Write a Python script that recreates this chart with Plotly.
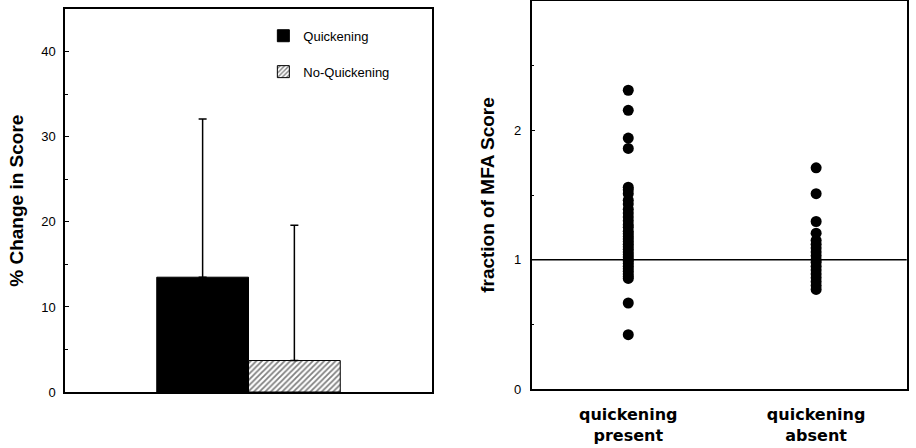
import plotly.graph_objects as go

# ---- data: left panel (bar chart) ----
bar_groups = ["Quickening", "No-Quickening"]
bar_means = [13.5, 3.7]
bar_sd_upper = [18.6, 15.9]

# ---- data: right panel (dot chart) ----
cat_labels = ["quickening<br>present", "quickening<br>absent"]
present_vals = [2.31, 2.155, 1.94, 1.86, 1.56, 1.54, 1.51, 1.46, 1.43, 1.39, 1.36,
                1.33, 1.30, 1.27, 1.25, 1.22, 1.20, 1.18, 1.16, 1.14, 1.12, 1.10,
                1.08, 1.06, 1.04, 1.02, 1.00, 0.99, 0.97, 0.95, 0.93, 0.91, 0.89,
                0.87, 0.855, 0.665, 0.42]
absent_vals = [1.71, 1.51, 1.295, 1.205, 1.15, 1.12, 1.09, 1.06, 1.03, 1.00, 0.98,
               0.95, 0.92, 0.89, 0.86, 0.83, 0.80, 0.77]
reference_level = 1.0

FONT = "Liberation Sans, Arial, sans-serif"
W, H = 916, 448

fig = go.Figure()

fig.add_trace(go.Bar(
    x=[bar_groups[0]], y=[bar_means[0]], name=bar_groups[0], width=1,
    marker=dict(color="black", line=dict(color="black", width=1)),
    error_y=dict(type="data", symmetric=False, array=[bar_sd_upper[0]], arrayminus=[0],
                 color="black", thickness=1.5, width=4),
    xaxis="x", yaxis="y", legendgroup="a",
))
fig.add_trace(go.Bar(
    x=[bar_groups[1]], y=[bar_means[1]], name=bar_groups[1], width=1,
    marker=dict(color="white", line=dict(color="black", width=1),
                pattern=dict(shape="/", fgcolor="black", bgcolor="white", size=4, solidity=0.45)),
    error_y=dict(type="data", symmetric=False, array=[bar_sd_upper[1]], arrayminus=[0],
                 color="black", thickness=1.5, width=4),
    xaxis="x", yaxis="y", legendgroup="b",
))

fig.add_trace(go.Scatter(
    x=[cat_labels[0]] * len(present_vals) + [cat_labels[1]] * len(absent_vals),
    y=present_vals + absent_vals,
    mode="markers", marker=dict(color="black", size=11),
    showlegend=False, xaxis="x2", yaxis="y2",
))

fig.add_shape(type="line", xref="x2 domain", x0=0, x1=1, yref="y2",
              y0=reference_level, y1=reference_level, line=dict(color="black", width=1.5))

axis_common = dict(showline=True, linecolor="black", linewidth=1.5, mirror=True,
                   showgrid=False, zeroline=False, automargin=False)

fig.update_layout(
    width=W, height=H,
    margin=dict(l=0, r=0, t=0, b=56),
    paper_bgcolor="white", plot_bgcolor="white",
    font=dict(family=FONT, color="black", size=13),
    barmode="overlay",
    showlegend=True,
    legend=dict(x=0.2875, y=0.947, xanchor="left", yanchor="top",
                bgcolor="rgba(0,0,0,0)", tracegroupgap=16,
                font=dict(size=13, family=FONT)),
    xaxis=dict(domain=[65 / W, 432 / W], anchor="y", type="category",
               categoryorder="array", categoryarray=bar_groups,
               range=[-1.5, 2.5], showticklabels=False, ticks="", **axis_common),
    yaxis=dict(domain=[0, 1 - 9.3 / 392], anchor="x", range=[0, 45],
               tickvals=[0, 10, 20, 30, 40], ticks="inside", ticklen=4,
               tickcolor="black", ticklabelstandoff=5,
               minor=dict(ticks="inside", dtick=5, ticklen=3, tickcolor="black"),
               title=dict(text="% Change in Score", standoff=13,
                          font=dict(size=19, family=FONT, weight="bold")),
               tickfont=dict(size=13), **axis_common),
    xaxis2=dict(domain=[531.7 / W, 906.7 / W], anchor="y2", type="category",
                categoryorder="array", categoryarray=cat_labels,
                range=[-0.514, 1.482], ticks="", ticklabelstandoff=10,
                tickfont=dict(size=16, family="DejaVu Sans, sans-serif", weight="bold"),
                **axis_common),
    yaxis2=dict(domain=[3 / 392, 1 - 1 / 392], anchor="x2", range=[0, 3],
                tickvals=[0, 1, 2, 3], ticks="inside", ticklen=4,
                tickcolor="black", ticklabelstandoff=6,
                minor=dict(ticks="inside", dtick=0.5, ticklen=3, tickcolor="black"),
                title=dict(text="fraction of MFA Score", standoff=14,
                           font=dict(size=19, family=FONT, weight="bold")),
                tickfont=dict(size=13), **axis_common),
)

fig.write_html("out.html", config={"displayModeBar": False},
               post_script="document.body.style.margin='0';")
